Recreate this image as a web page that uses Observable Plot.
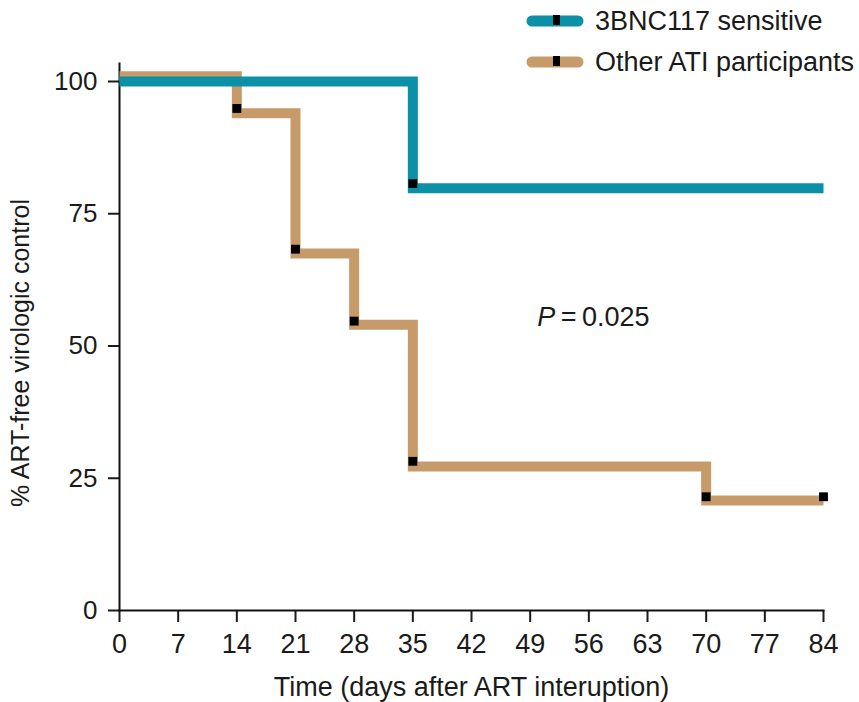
<!DOCTYPE html>
<html>
<head>
<meta charset="utf-8">
<script src="https://cdn.jsdelivr.net/npm/d3@7"></script>
<script src="https://cdn.jsdelivr.net/npm/@observablehq/plot@0.6"></script>
<style>
  html, body { margin: 0; padding: 0; background: white; }
  #wrap { position: relative; width: 859px; height: 702px; font-family: "Liberation Sans", Arial, Helvetica, sans-serif; color: #1a1a1a; }
  .leg { position: absolute; display: flex; align-items: center; font-size: 27px; white-space: nowrap; }
  .leg svg { margin-right: 11px; }
</style>
</head>
<body>
<div id="wrap"></div>
<script>
// Series names and colours
const seriesNames = ["3BNC117 sensitive", "Other ATI participants"];
const seriesColors = ["#0a90a7", "#c69a69"];

// Step curves (Kaplan–Meier), values in %
const sensDays = [0, 35, 84];
const sensValues = [100, 79.8, 79.8];
const otherDays = [0, 14, 21, 28, 35, 70, 84];
const otherValues = [101, 94, 67.5, 54, 27.2, 20.8, 20.8];

// Censor marks
const sensMarkDays = [35];
const sensMarkValues = [80.7];
const otherMarkDays = [14, 21, 28, 35, 70, 84];
const otherMarkValues = [94.9, 68.3, 54.7, 28.2, 21.5, 21.5];

// Axes
const xTicks = [0, 7, 14, 21, 28, 35, 42, 49, 56, 63, 70, 77, 84];
const yTicks = [0, 25, 50, 75, 100];
const xLabel = "Time (days after ART interuption)";
const yLabel = "% ART-free virologic control";

// Annotation
const pLabel = {x: 52, y: 55.4, p: "P", rest: "\u2009=\u20090.025"};

const sensData = sensDays.map((d, i) => ({day: d, value: sensValues[i]}));
const otherData = otherDays.map((d, i) => ({day: d, value: otherValues[i]}));
const sensMarks = sensMarkDays.map((d, i) => ({day: d, value: sensMarkValues[i]}));
const otherMarks = otherMarkDays.map((d, i) => ({day: d, value: otherMarkValues[i]}));

const lineStyle = {x: "day", y: "value", curve: "step-after", strokeWidth: 10,
  strokeLinejoin: "miter", strokeMiterlimit: 4, strokeLinecap: "butt"};

const chart = Plot.plot({
  width: 859,
  height: 702,
  marginLeft: 119,
  marginRight: 36,
  marginTop: 63,
  marginBottom: 92,
  style: {fontFamily: "'Liberation Sans', Arial, Helvetica, sans-serif", color: "#1a1a1a", background: "white"},
  x: {domain: [0, 84]},
  y: {domain: [0, 103.4]},
  marks: [
    Plot.axisX({ticks: xTicks, tickSize: 12, tickPadding: 11, strokeWidth: 2, fontSize: 27,
      label: xLabel, labelAnchor: "center", labelArrow: "none", labelOffset: 85}),
    Plot.axisY({ticks: yTicks, tickSize: 11, tickPadding: 11, strokeWidth: 2, fontSize: 26, label: null}),
    Plot.text([yLabel], {frameAnchor: "left", textAnchor: "middle", lineAnchor: "middle", rotate: -90,
      dx: -99, dy: 16, fontSize: 25, fill: "#1a1a1a"}),
    Plot.frame({anchor: "left", strokeWidth: 2, stroke: "#111"}),
    Plot.frame({anchor: "bottom", strokeWidth: 2, stroke: "#111"}),
    Plot.line(otherData, {...lineStyle, stroke: seriesColors[1]}),
    Plot.line(sensData, {...lineStyle, stroke: seriesColors[0]}),
    Plot.dot(otherMarks, {x: "day", y: "value", symbol: "square", r: 5, fill: "black", stroke: "none"}),
    Plot.dot(sensMarks, {x: "day", y: "value", symbol: "square", r: 5, fill: "black", stroke: "none"}),
    Plot.text([pLabel], {x: "x", y: "y", text: "p", textAnchor: "end", fontSize: 27, fontStyle: "italic", fill: "#1a1a1a"}),
    Plot.text([pLabel], {x: "x", y: "y", text: "rest", textAnchor: "start", fontSize: 27, fill: "#1a1a1a"})
  ]
});

const wrap = document.getElementById("wrap");
wrap.appendChild(chart);

const legendTops = [21, 62];
seriesNames.forEach((name, i) => {
  const row = document.createElement("div");
  row.className = "leg";
  row.style.left = "526px";
  row.style.top = (legendTops[i] - 16) + "px";
  row.style.height = "32px";
  row.innerHTML = `<svg width="58" height="14" viewBox="0 0 58 14">
      <line x1="6" y1="7" x2="52" y2="7" stroke="${seriesColors[i]}" stroke-width="11" stroke-linecap="round"/>
      <rect x="27" y="1" width="7" height="10" fill="black"/>
    </svg><span>${name}</span>`;
  wrap.appendChild(row);
});
</script>
</body>
</html>
